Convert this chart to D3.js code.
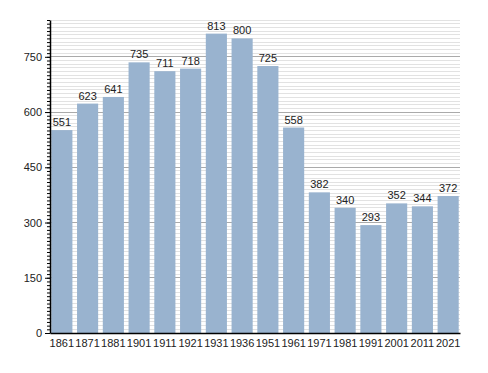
<!DOCTYPE html>
<html><head><meta charset="utf-8">
<script src="https://cdn.jsdelivr.net/npm/d3@7"></script>
<style>body{margin:0;background:#fff}svg{display:block}text{font-family:"Liberation Sans",Arial,sans-serif}</style>
</head><body><svg id="c" width="488" height="373"></svg>
<script>
const years = ["1861","1871","1881","1901","1911","1921","1931","1936","1951","1961","1971","1981","1991","2001","2011","2021"];
const population = [551,623,641,735,711,718,813,800,725,558,382,340,293,352,344,372];
const yTicks = [0,150,300,450,600,750];

const svg = d3.select("#c");
const m = {l:50, r:28, t:20, b:40};
const W = 488, H = 373;
const x = d3.scaleBand().domain(years).range([m.l, W - m.r]).paddingInner(0.18).paddingOuter(0.05);
const y = d3.scaleLinear().domain([0, 850]).range([H - m.b, m.t]);

const minor = d3.range(10, 851, 10).filter(v => v % 150 !== 0);
svg.append("g").selectAll("line").data(minor).join("line")
  .attr("x1", m.l).attr("x2", W - m.r).attr("y1", d => y(d)).attr("y2", d => y(d))
  .attr("stroke", "#e2e2e2").attr("stroke-width", 1).attr("shape-rendering","crispEdges");
svg.append("g").selectAll("line").data(yTicks.filter(v=>v>0)).join("line")
  .attr("x1", m.l).attr("x2", W - m.r).attr("y1", d => y(d)).attr("y2", d => y(d))
  .attr("stroke", "#aaaaaa").attr("stroke-width", 1).attr("shape-rendering","crispEdges");

svg.append("g").selectAll("rect").data(population).join("rect")
  .attr("x", (d,i) => x(years[i])).attr("width", x.bandwidth())
  .attr("y", d => y(d)).attr("height", d => y(0) - y(d))
  .attr("fill", "#99b3cf");

svg.append("g").selectAll("text").data(population).join("text")
  .attr("x", (d,i) => x(years[i]) + x.bandwidth()/2).attr("y", d => y(d) - 4)
  .attr("text-anchor","middle").attr("font-size", 11).attr("fill","#222").text(d => d);

// minor ticks
svg.append("g").attr("transform", `translate(${m.l},0)`)
  .call(d3.axisLeft(y).tickValues(d3.range(0, 851, 10)).tickSize(3).tickFormat(""))
  .call(g => g.select(".domain").remove())
  .call(g => g.selectAll("line").attr("stroke","#000"));
// major axis
svg.append("g").attr("transform", `translate(${m.l},0)`)
  .call(d3.axisLeft(y).tickValues(yTicks).tickSize(5).tickSizeOuter(0).tickPadding(3))
  .call(g => g.selectAll("text").attr("font-size", 11).attr("fill","#222"))
  .call(g => g.select(".domain").attr("stroke","#000").attr("stroke-width",1.5));

svg.append("g").attr("transform", `translate(0,${y(0)})`)
  .call(d3.axisBottom(x).tickSize(0).tickPadding(6))
  .call(g => g.selectAll("text").attr("font-size", 11).attr("fill","#222"))
  .call(g => g.select(".domain").attr("stroke","#000").attr("stroke-width",1.5));
</script></body></html>
